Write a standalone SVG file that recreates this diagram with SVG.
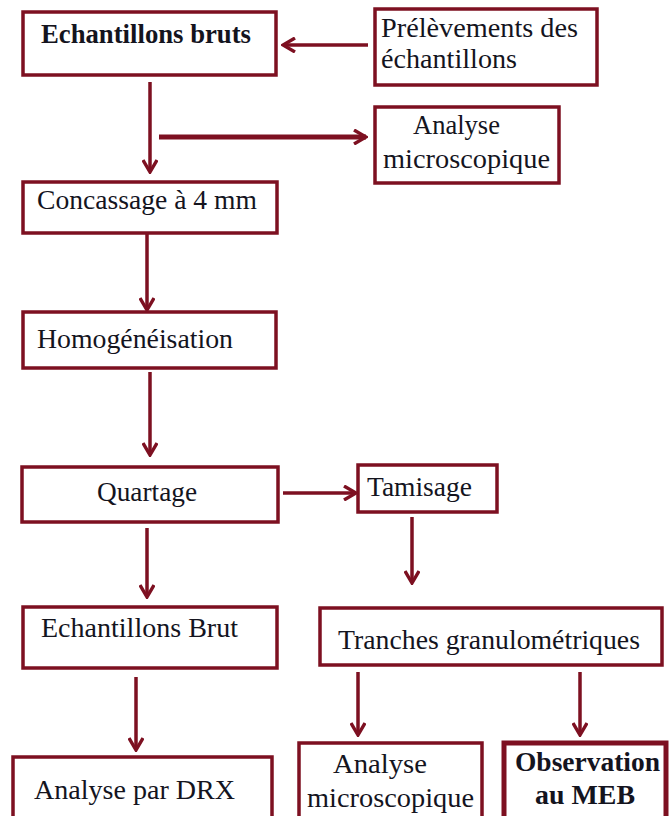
<svg xmlns="http://www.w3.org/2000/svg" width="669" height="816" viewBox="0 0 669 816">
  <defs>
    <style>
      .box { fill: #ffffff; stroke: #7d1021; stroke-width: 3.5; }
      .box-thick { fill: #ffffff; stroke: #7d1021; stroke-width: 5; }
      .link { fill: none; stroke: #7d1021; stroke-width: 3.5; stroke-linecap: butt; }
      .link-thick { fill: none; stroke: #7d1021; stroke-width: 5; }
      .label { font-family: "Liberation Serif", "Times New Roman", serif; font-size: 28px; fill: #14141e; }
      .bold { font-weight: bold; }
    </style>
    <marker id="chevron" viewBox="0 0 16 16" refX="14" refY="8" markerWidth="16" markerHeight="16" markerUnits="userSpaceOnUse" orient="auto">
      <path d="M2,1 L14,8 L2,15" fill="none" stroke="#7d1021" stroke-width="3.4" stroke-linejoin="miter"/>
    </marker>
  </defs>
  <rect width="669" height="816" fill="#ffffff"/>

  <g id="connectors">
    <line class="link" x1="368" y1="45" x2="283" y2="45" marker-end="url(#chevron)"/>
    <line class="link" x1="150" y1="82" x2="150" y2="172" marker-end="url(#chevron)"/>
    <line class="link-thick" x1="159" y1="137" x2="366" y2="137" marker-end="url(#chevron)"/>
    <line class="link" x1="147" y1="234" x2="147" y2="310" marker-end="url(#chevron)"/>
    <line class="link" x1="150" y1="372" x2="150" y2="455" marker-end="url(#chevron)"/>
    <line class="link" x1="283" y1="493" x2="356" y2="493" marker-end="url(#chevron)"/>
    <line class="link" x1="147" y1="528" x2="147" y2="597" marker-end="url(#chevron)"/>
    <line class="link" x1="412" y1="517" x2="412" y2="583" marker-end="url(#chevron)"/>
    <line class="link" x1="136" y1="677" x2="136" y2="750" marker-end="url(#chevron)"/>
    <line class="link" x1="358" y1="672" x2="358" y2="735" marker-end="url(#chevron)"/>
    <line class="link" x1="580" y1="672" x2="580" y2="735" marker-end="url(#chevron)"/>
  </g>

  <g id="echantillons-bruts">
    <rect class="box" x="23" y="12" width="253" height="63"/>
    <text class="label bold" x="41" y="43" textLength="210" lengthAdjust="spacingAndGlyphs">Echantillons bruts</text>
  </g>

  <g id="prelevements">
    <rect class="box" x="375" y="9" width="222" height="76"/>
    <text class="label" x="381" y="37" textLength="197" lengthAdjust="spacingAndGlyphs">Prélèvements des</text>
    <text class="label" x="381" y="68" textLength="136" lengthAdjust="spacingAndGlyphs">échantillons</text>
  </g>

  <g id="analyse-microscopique-1">
    <rect class="box" x="375" y="107" width="184" height="76"/>
    <text class="label" x="413" y="134" textLength="87" lengthAdjust="spacingAndGlyphs">Analyse</text>
    <text class="label" x="383" y="168" textLength="167" lengthAdjust="spacingAndGlyphs">microscopique</text>
  </g>

  <g id="concassage">
    <rect class="box" x="23" y="182" width="254" height="51"/>
    <text class="label" x="37" y="209" textLength="220" lengthAdjust="spacingAndGlyphs">Concassage à 4 mm</text>
  </g>

  <g id="homogeneisation">
    <rect class="box" x="23" y="312" width="253" height="56"/>
    <text class="label" x="37" y="348" textLength="196" lengthAdjust="spacingAndGlyphs">Homogénéisation</text>
  </g>

  <g id="quartage">
    <rect class="box" x="22" y="467" width="256" height="55"/>
    <text class="label" x="97" y="501" textLength="100" lengthAdjust="spacingAndGlyphs">Quartage</text>
  </g>

  <g id="tamisage">
    <rect class="box" x="358" y="465" width="139" height="47"/>
    <text class="label" x="367" y="496" textLength="105" lengthAdjust="spacingAndGlyphs">Tamisage</text>
  </g>

  <g id="echantillons-brut">
    <rect class="box" x="23" y="607" width="254" height="61"/>
    <text class="label" x="41" y="637" textLength="197" lengthAdjust="spacingAndGlyphs">Echantillons Brut</text>
  </g>

  <g id="tranches">
    <rect class="box" x="320" y="608" width="342" height="57"/>
    <text class="label" x="338" y="649" textLength="302" lengthAdjust="spacingAndGlyphs">Tranches granulométriques</text>
  </g>

  <g id="analyse-drx">
    <rect class="box" x="13" y="757" width="259" height="70"/>
    <text class="label" x="34" y="799" textLength="201" lengthAdjust="spacingAndGlyphs">Analyse par DRX</text>
  </g>

  <g id="analyse-microscopique-2">
    <rect class="box" x="299" y="743" width="183" height="84"/>
    <text class="label" x="333" y="773" textLength="94" lengthAdjust="spacingAndGlyphs">Analyse</text>
    <text class="label" x="307" y="807" textLength="167" lengthAdjust="spacingAndGlyphs">microscopique</text>
  </g>

  <g id="observation-meb">
    <rect class="box-thick" x="504" y="743" width="162" height="84"/>
    <text class="label bold" x="515" y="771" textLength="145" lengthAdjust="spacingAndGlyphs">Observation</text>
    <text class="label bold" x="535" y="804" textLength="100" lengthAdjust="spacingAndGlyphs">au MEB</text>
  </g>
</svg>
